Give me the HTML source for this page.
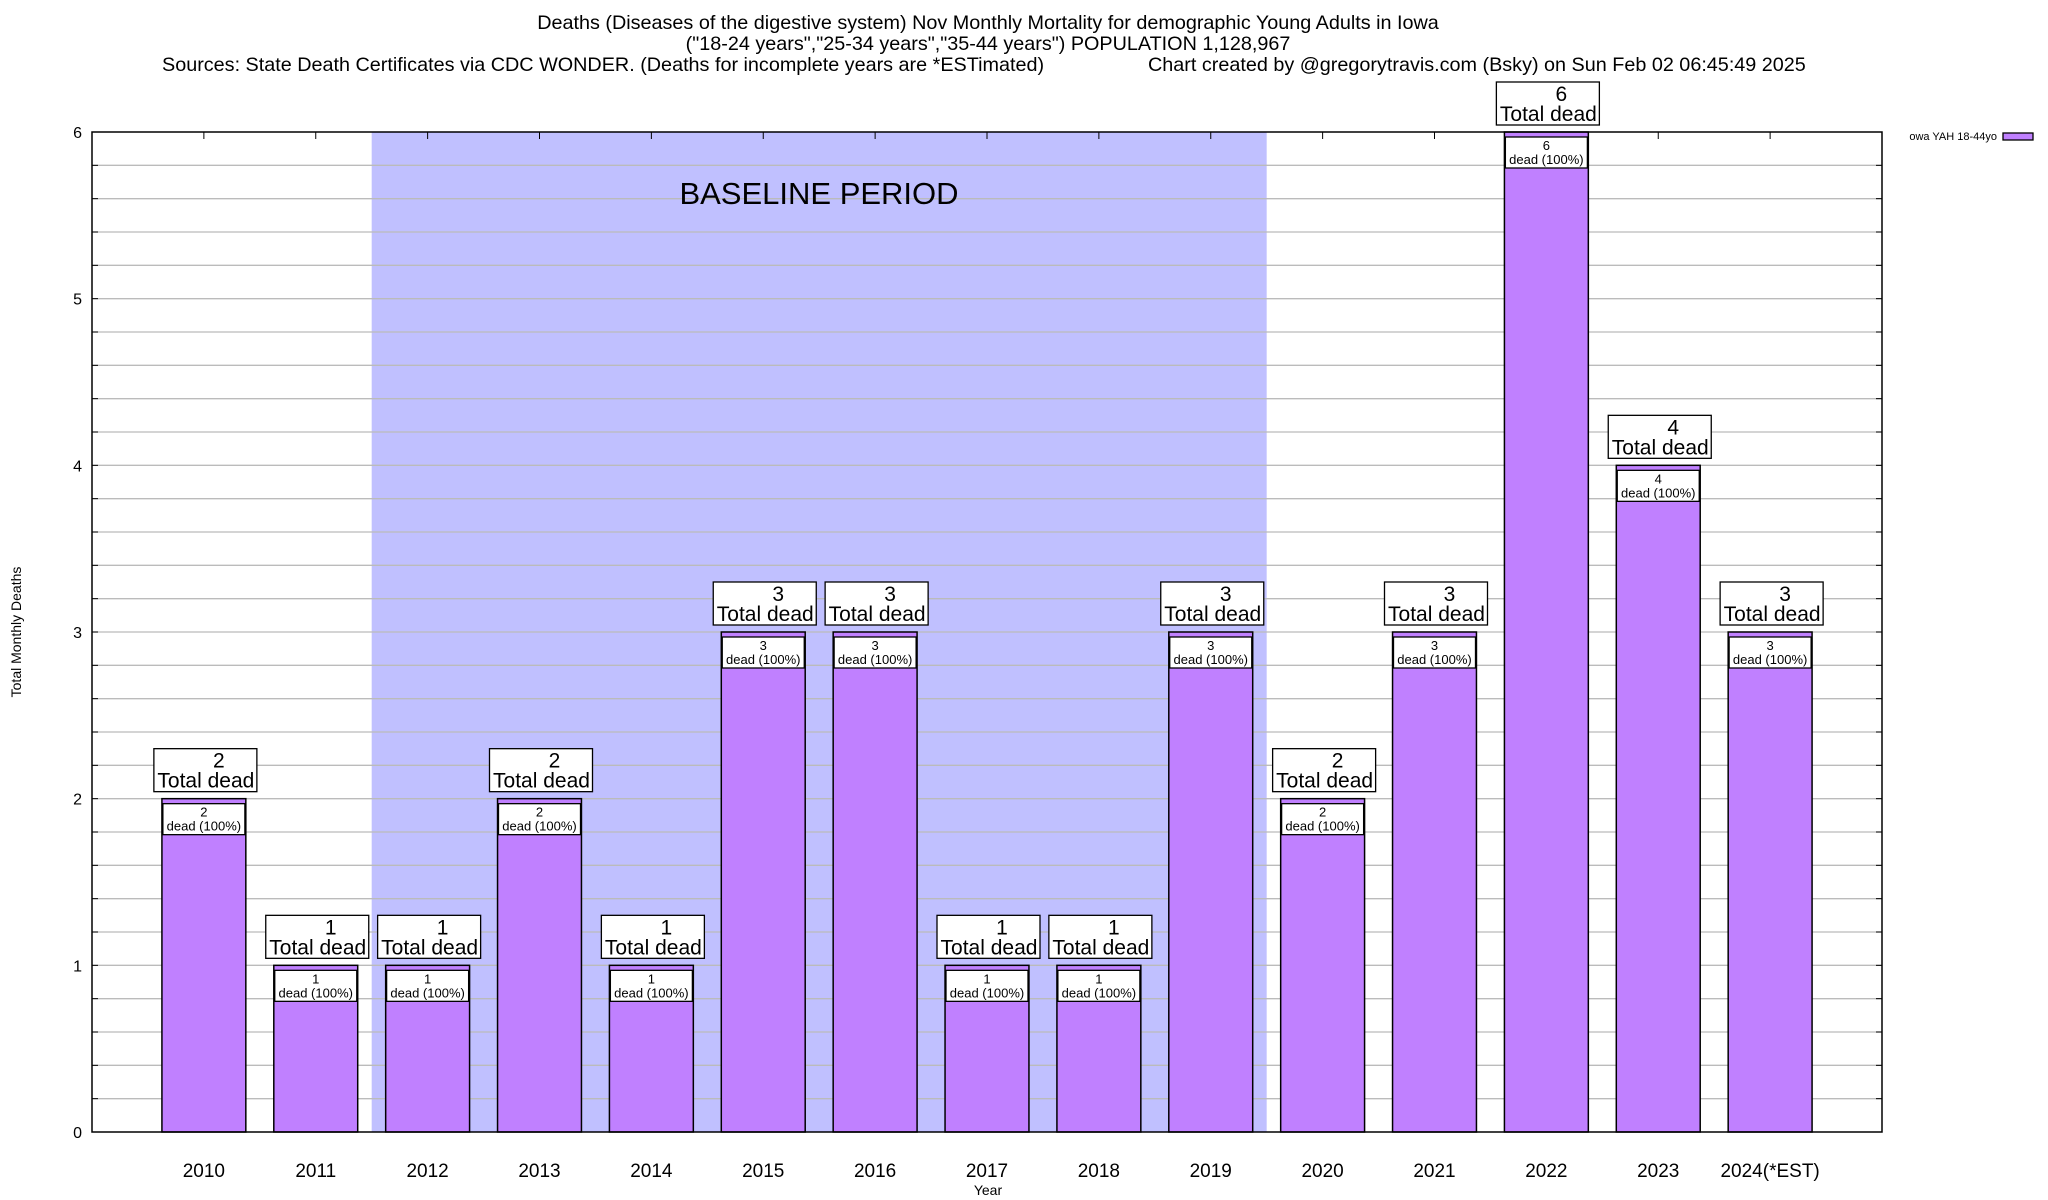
<!DOCTYPE html>
<html><head><meta charset="utf-8"><style>
html,body{margin:0;padding:0;background:#fff;}
svg{display:block;font-family:"Liberation Sans",sans-serif;}
</style></head><body>
<svg id="chart" width="2048" height="1200" viewBox="0 0 2048 1200" xmlns="http://www.w3.org/2000/svg">
<g font-size="19.8" fill="#000">
<text x="988" y="29" text-anchor="middle">Deaths (Diseases of the digestive system) Nov Monthly Mortality for demographic Young Adults in Iowa</text>
<text x="988" y="50" text-anchor="middle">("18-24 years","25-34 years","35-44 years") POPULATION 1,128,967</text>
<text x="162" y="71">Sources: State Death Certificates via CDC WONDER. (Deaths for incomplete years are *ESTimated)</text>
<text x="1148" y="71">Chart created by @gregorytravis.com (Bsky) on Sun Feb 02 06:45:49 2025</text>
</g>
<g id="plot"></g>
</svg>
<script>
const categories = ["2010","2011","2012","2013","2014","2015","2016","2017","2018","2019","2020","2021","2022","2023","2024(*EST)"];
const deaths = [2,1,1,2,1,3,3,1,1,3,2,3,6,4,3];
const yTicks = [0,1,2,3,4,5,6];
const baselineStart = 1.5, baselineEnd = 9.5;

const L=92, R=1882, T=132, B=1132, yMax=6;
const xs = i => L + (i+1)*(R-L)/16;
const ys = v => B - v*(B-T)/yMax;
const unit = (R-L)/16;
const NS="http://www.w3.org/2000/svg";
const plot=document.getElementById('plot');
function mk(tag, attrs, parent){const e=document.createElementNS(NS,tag);for(const k in attrs)e.setAttribute(k,attrs[k]);(parent||plot).appendChild(e);return e;}

let sh=mk('rect',{x:xs(baselineStart),y:T,width:xs(baselineEnd)-xs(baselineStart),height:B-T,fill:'#c0c0ff'});


for(let v=0; v<=yMax+1e-9; v+=0.2){
  if(v<0.01||v>yMax-0.01) continue;
  let g=mk('line',{x1:L,x2:R,y1:ys(v),y2:ys(v),stroke:'#bbb','stroke-width':1.3});
  
  
  let t1=mk('line',{x1:L,x2:L+6,y1:ys(v),y2:ys(v),stroke:'#000'});
  
  
  let t2=mk('line',{x1:R-6,x2:R,y1:ys(v),y2:ys(v),stroke:'#000'});
  
  
}
let bl=mk('text',{x:819,y:204,'font-size':31,'text-anchor':'middle'});
bl.textContent='BASELINE PERIOD';


yTicks.forEach(v=>{
  let t=mk('text',{x:82,y:ys(v)+6,'font-size':16,'text-anchor':'end'});
  t.textContent=v;
  
  
});
const bw=unit*0.75;
categories.forEach((c,i)=>{
  const cx=xs(i), v=deaths[i], top=ys(v);
  let tt=mk('line',{x1:cx,x2:cx,y1:T,y2:T+7,stroke:'#000'});
  
  
  let bar=mk('rect',{x:cx-bw/2,y:top,width:bw,height:B-top,fill:'#c080ff',stroke:'#000','stroke-width':1.5});
  
  
  let ib=mk('rect',{x:cx-41,y:top+5,width:82,height:31,fill:'#fff',stroke:'#000','stroke-width':1.3});
  
  
  let i1=mk('text',{x:cx,y:top+18,'font-size':13,'text-anchor':'middle'});
  i1.textContent=v;
  
  
  let i2=mk('text',{x:cx,y:top+32,'font-size':13,'text-anchor':'middle'});
  i2.textContent='dead (100%)';
  
  
  let tb=mk('rect',{x:cx-50,y:top-50,width:103,height:43,fill:'#fff',stroke:'#000','stroke-width':1.3});
  
  
  let t1=mk('text',{x:cx+15,y:top-31,'font-size':21,'text-anchor':'middle'});
  t1.textContent=v;
  
  
  let t2=mk('text',{x:cx+2,y:top-11,'font-size':21,'text-anchor':'middle'});
  t2.textContent='Total dead';
  
  
  let xl=mk('text',{x:cx,y:1177,'font-size':19,'text-anchor':'middle'});
  xl.textContent=c;
  
  
});
let fr=mk('rect',{x:L,y:T,width:R-L,height:B-T,fill:'none',stroke:'#000','stroke-width':1.5});


let xt=mk('text',{x:988,y:1195,'font-size':14,'text-anchor':'middle'});
xt.textContent='Year';


let yt=mk('text',{x:0,y:0,'font-size':14,'text-anchor':'middle',transform:'translate(21,632) rotate(-90)'});
yt.textContent='Total Monthly Deaths';


let lt=mk('text',{x:1997,y:140,'font-size':11,'text-anchor':'end'});
lt.textContent='owa YAH 18-44yo';


let ls=mk('rect',{x:2003,y:133,width:30,height:7,fill:'#c080ff',stroke:'#000','stroke-width':1.3});


</script>
</body></html>
